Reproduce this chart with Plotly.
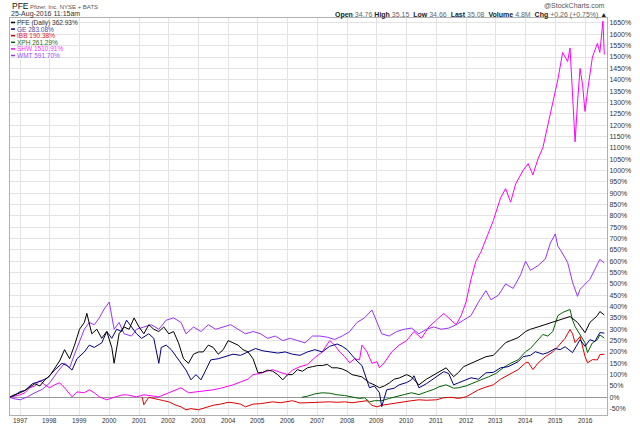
import plotly.graph_objects as go

# ---------------- data ----------------
pfe_dates = ["1996-08-26","1996-10","1997-01","1997-03","1997-05","1997-07","1997-09","1997-11","1998-01","1998-03","1998-05","1998-07","1998-09","1998-11",
             "1999-01","1999-03","1999-04","1999-06","1999-08","1999-10","1999-12","2000-02","2000-03","2000-05","2000-07","2000-09","2000-11",
             "2001-01","2001-03","2001-05","2001-07","2001-09","2001-11","2002-01","2002-03","2002-05","2002-07","2002-09","2002-11",
             "2003-01","2003-03","2003-05","2003-07","2003-09","2003-11","2004-01","2004-03","2004-05","2004-07","2004-09","2004-11",
             "2005-01","2005-03","2005-05","2005-07","2005-09","2005-11","2006-01","2006-03","2006-05","2006-07","2006-09","2006-11",
             "2007-01","2007-03","2007-05","2007-07","2007-09","2007-11","2008-01","2008-03","2008-05","2008-07","2008-10","2008-12",
             "2009-02","2009-04","2009-06","2009-08","2009-10","2010-01","2010-03","2010-06","2010-09","2011-01","2011-03","2011-05",
             "2011-08","2011-10","2011-12","2012-03","2012-06","2012-09","2012-12","2013-02","2013-05","2013-07","2013-10","2014-01",
             "2014-03","2014-06","2014-09","2014-12","2015-03","2015-07","2015-10","2016-01","2016-03","2016-06","2016-07","2016-08-25"]
pfe_vals = [0,8,20,30,45,60,50,77,95,130,160,210,170,230,
            300,330,370,280,300,260,290,220,150,280,310,300,350,
            310,280,320,300,290,310,280,290,240,170,150,190,
            200,200,230,220,190,210,250,240,230,210,200,170,
            108,110,120,115,100,77,100,100,122,115,130,135,
            140,140,145,130,130,125,115,100,95,90,64,55,
            42,50,63,80,85,100,90,55,80,107,120,130,
            91,110,135,150,165,179,185,210,241,250,263,290,
            300,310,320,330,343,356,330,285,330,360,378,363]

ge_dates = ["1996-08-26","1996-11","1997-01","1997-03","1997-06","1997-09","1997-12","1998-03","1998-06","1998-08","1998-10","1998-12",
            "1999-03","1999-05","1999-07","1999-10","1999-12","2000-02","2000-04","2000-06","2000-08","2000-10","2000-12",
            "2001-02","2001-05","2001-07","2001-09","2001-10","2001-12","2002-02","2002-04","2002-06","2002-08","2002-10","2002-12",
            "2003-02","2003-04","2003-06","2003-09","2003-12","2004-03","2004-06","2004-09","2004-12","2005-03","2005-06","2005-09","2005-12",
            "2006-03","2006-06","2006-09","2006-12","2007-03","2007-06","2007-09","2007-11","2008-01","2008-03","2008-05","2008-07",
            "2008-10","2008-12","2009-02","2009-03","2009-05","2009-08","2009-10","2010-01","2010-03","2010-04","2010-06","2010-09",
            "2011-01","2011-04","2011-06","2011-08","2011-10","2012-01","2012-03","2012-06","2012-09","2012-12","2013-03","2013-06",
            "2013-10","2013-12","2014-03","2014-05","2014-08","2014-10","2015-01","2015-03","2015-05","2015-08","2015-11","2016-01",
            "2016-03","2016-05","2016-07","2016-08-25"]
ge_vals = [0,10,25,30,60,70,85,120,150,140,120,170,
           200,230,220,240,290,260,300,290,340,310,280,
           260,280,260,150,220,230,210,180,150,120,77,100,
           77,120,165,170,180,190,185,200,215,205,200,195,200,
           190,185,200,210,200,225,235,225,210,185,160,140,
           42,50,20,-41,33,40,55,65,77,95,42,60,
           91,113,105,55,64,77,86,80,108,110,130,135,
           157,179,185,201,190,197,215,210,223,197,254,225,
           254,246,285,283]

ibb_dates = ["2001-02-09","2001-03","2001-05","2001-08","2001-09","2001-11","2002-01","2002-04","2002-06","2002-08","2002-10",
             "2003-01","2003-04","2003-07","2003-10","2004-01","2004-03","2004-06","2004-08","2004-11","2005-02","2005-04","2005-07","2005-10",
             "2006-01","2006-03","2006-06","2006-09","2006-12","2007-03","2007-06","2007-09","2007-12","2008-03","2008-06","2008-09","2008-11",
             "2009-01","2009-03","2009-06","2009-09","2009-12","2010-03","2010-06","2010-09","2011-01","2011-04","2011-07","2011-10",
             "2012-01","2012-04","2012-06","2012-09","2012-12","2013-03","2013-05","2013-08","2013-10","2014-01","2014-02","2014-04",
             "2014-06","2014-09","2014-12","2015-02","2015-05","2015-07","2015-08","2015-09","2015-11","2016-01","2016-02","2016-04",
             "2016-06","2016-07","2016-08-25"]
ibb_vals = [0,-33,0,-5,-10,-15,-20,-35,-42,-55,-50,
            -55,-45,-35,-30,-22,-24,-30,-42,-30,-28,-24,-20,-24,
            -20,-15,-25,-24,-20,-22,-20,-22,-20,-24,-18,-15,-35,
            -42,-35,-30,-22,-20,-15,-11,-13,-11,-2,0,-5,
            2,20,33,45,55,80,91,110,122,152,155,122,
            150,179,200,223,260,299,280,241,268,180,152,166,
            165,188,190]

xph_dates = ["2006-06-23","2006-09","2006-12","2007-03","2007-06","2007-09","2007-12","2008-03","2008-06","2008-08","2008-10","2008-12",
             "2009-03","2009-06","2009-09","2009-12","2010-03","2010-06","2010-09","2010-12","2011-02","2011-05","2011-08","2011-10",
             "2012-01","2012-04","2012-07","2012-10","2013-01","2013-04","2013-07","2013-10","2014-01","2014-03","2014-05","2014-08",
             "2014-10","2014-12","2015-02","2015-04","2015-07","2015-08","2015-09","2015-12","2016-01","2016-02","2016-04","2016-06",
             "2016-07","2016-08-25"]
xph_vals = [0,5,15,20,18,11,8,0,-5,-2,-20,-15,
            -15,-5,5,12,20,12,24,35,46,55,40,42,
            50,65,77,90,105,130,150,165,201,215,241,277,
            270,290,360,374,387,340,312,260,240,197,240,254,
            275,261]

shw_dates = ["1996-08-26","1996-11","1997-01","1997-03","1997-05","1997-07","1997-09","1997-11","1998-01","1998-03","1998-05","1998-07",
             "1998-10","1998-12","1999-03","1999-05","1999-07","1999-09","1999-12","2000-03","2000-06","2000-08","2000-10","2000-12",
             "2001-03","2001-06","2001-09","2002-01","2002-04","2002-06","2002-09","2003-01","2003-04","2003-07","2003-10","2003-12",
             "2004-03","2004-06","2004-09","2004-11","2005-02","2005-04","2005-07","2005-10","2006-01","2006-03","2006-06","2006-09",
             "2006-12","2007-03","2007-06","2007-08","2007-10","2007-12","2008-02","2008-04","2008-06","2008-07","2008-09","2008-11",
             "2009-01","2009-02","2009-04","2009-07","2009-10","2010-01","2010-04","2010-07","2010-10","2011-01","2011-04","2011-07",
             "2011-09","2011-11","2012-01","2012-03","2012-05","2012-07","2012-10","2012-12","2013-03","2013-05","2013-07","2013-09",
             "2013-12","2014-02","2014-04","2014-06","2014-08","2014-10","2014-12","2015-02","2015-04","2015-06","2015-07","2015-08",
             "2015-09","2015-10","2015-11","2015-12","2016-01","2016-02","2016-04","2016-06","2016-07","2016-08-08","2016-08-25"]
shw_vals = [0,5,11,20,42,50,75,55,42,55,64,42,
            2,24,20,33,20,2,-11,0,10,11,5,2,
            11,8,2,20,35,42,20,24,28,33,40,46,
            55,68,80,100,105,113,122,110,100,120,135,144,
            175,200,250,230,200,180,152,170,165,230,200,150,
            157,130,152,200,230,250,290,260,310,340,370,340,
            320,360,420,520,600,640,720,780,880,920,860,940,
            1000,1030,980,1050,1100,1200,1300,1400,1520,1480,1540,1300,
            1126,1300,1450,1380,1260,1350,1500,1560,1520,1658,1511]

wmt_dates = ["1996-08-26","1996-10","1997-01","1997-04","1997-07","1997-10","1998-01","1998-04","1998-07","1998-09","1998-11",
             "1999-01","1999-03","1999-05","1999-07","1999-09","1999-11","2000-01","2000-03","2000-05","2000-07","2000-10","2000-12",
             "2001-03","2001-06","2001-09","2001-12","2002-03","2002-06","2002-08","2002-11","2003-02","2003-05","2003-08","2003-11",
             "2004-02","2004-05","2004-08","2004-11","2005-02","2005-05","2005-08","2005-11","2006-02","2006-05","2006-08","2006-11",
             "2007-02","2007-05","2007-08","2007-11","2008-02","2008-05","2008-08","2008-11","2009-01","2009-03","2009-06","2009-09",
             "2009-12","2010-03","2010-06","2010-09","2010-12","2011-03","2011-06","2011-09","2011-12","2012-03","2012-06","2012-09",
             "2012-11","2013-02","2013-05","2013-08","2013-11","2014-01","2014-03","2014-06","2014-09","2014-11","2015-01","2015-02",
             "2015-03","2015-06","2015-08","2015-10","2015-11","2016-03","2016-05","2016-07","2016-08-25"]
wmt_vals = [0,-5,-11,2,20,35,64,110,150,130,190,
            250,300,330,320,350,390,420,300,330,280,270,300,
            310,320,300,340,350,330,280,310,290,320,300,310,
            320,300,280,290,280,260,270,250,260,250,240,270,
            270,265,255,270,290,330,350,385,330,280,270,290,
            300,305,280,300,310,300,305,320,340,360,420,470,
            430,450,500,480,540,600,560,580,610,680,720,666,
            652,595,507,445,476,520,564,608,592]

series_names = ["PFE (Daily)", "GE", "IBB", "XPH", "SHW", "WMT"]
series_final = ["362.93%", "283.08%", "190.38%", "261.29%", "1510.91%", "591.70%"]
series_colors = ["#000000", "#000080", "#dd0000", "#006400", "#ff00ff", "#9933ff"]
legend_text_colors = ["#333333", "#4a4aa0", "#dd2222", "#2d6b2d", "#ff33ff", "#9955ff"]

year_ticks = list(range(1997, 2017))
pct_ticks = list(range(-50, 1651, 50))

series_data = [(pfe_dates, pfe_vals), (ge_dates, ge_vals), (ibb_dates, ibb_vals),
               (xph_dates, xph_vals), (shw_dates, shw_vals), (wmt_dates, wmt_vals)]

# ---------------- figure ----------------
W, H = 640, 426
L, R, T, B = 10, 607, 18, 415
def px(x): return (x - L) / (R - L)
def py(y): return (B - y) / (B - T)

FONT = "Liberation Sans, Arial, sans-serif"
fig = go.Figure()
order = [4, 5, 3, 2, 1, 0]
for i in order:
    d, v = series_data[i]
    fig.add_trace(go.Scatter(x=d, y=v, mode="lines", name=series_names[i],
                             line=dict(color=series_colors[i], width=1), showlegend=False,
                             hoverinfo="skip"))

fig.update_layout(
    width=W, height=H,
    margin=dict(l=L, r=W - R, t=T, b=H - B, pad=0),
    paper_bgcolor="white", plot_bgcolor="white",
    font=dict(family=FONT, size=7, color="#333333"),
    showlegend=False,
)
fig.update_xaxes(
    type="date", range=["1996-08-30", "2016-09-27"],
    tickvals=[f"{y}-01-01" for y in year_ticks], ticktext=["" for y in year_ticks],
    showticklabels=False,
    showgrid=True, gridcolor="#e3e3e3", gridwidth=1,
    showline=True, linecolor="#b0b0b0", linewidth=1, mirror=True,
    ticks="", automargin=False, zeroline=False,
)
fig.update_yaxes(
    range=[-78, 1672], side="right",
    tickvals=pct_ticks, ticktext=[f"{v}%" for v in pct_ticks],
    showgrid=True, gridcolor="#e3e3e3", gridwidth=1,
    showline=True, linecolor="#b0b0b0", linewidth=1, mirror=True,
    zeroline=True, zerolinecolor="#999999", zerolinewidth=1,
    ticks="", tickfont=dict(size=7, color="#333333"), automargin=False,
)

ann = []
# year labels along the bottom (x in data coordinates)
for y in year_ticks:
    ann.append(dict(x=f"{y}-01-01", y=py(416), xref="x", yref="paper", xanchor="center", yanchor="top",
                    text=str(y), showarrow=False, borderpad=0,
                    font=dict(size=6.5, color="#333333", family=FONT)))
# header left
ann.append(dict(x=px(10), y=py(6), xref="paper", yref="paper", xanchor="left", yanchor="middle",
                text="PFE", showarrow=False, font=dict(size=8.5, color="#111111", family=FONT)))
ann.append(dict(x=px(28), y=py(6.5), xref="paper", yref="paper", xanchor="left", yanchor="middle",
                text="Pfizer, Inc. NYSE + BATS", showarrow=False, font=dict(size=6, color="#555555", family=FONT)))
ann.append(dict(x=px(10), y=py(14), xref="paper", yref="paper", xanchor="left", yanchor="middle",
                text="25-Aug-2016 11:15am", showarrow=False, borderpad=0,
                font=dict(size=7, color="#333333", family=FONT)))
# header right
ann.append(dict(x=px(607), y=py(5.5), xref="paper", yref="paper", xanchor="right", yanchor="middle",
                text="@StockCharts.com", showarrow=False, font=dict(size=7, color="#555555", family=FONT)))
hdr = ("<b>Open</b> <span style='color:#666'>34.76</span> <b>High</b> <span style='color:#666'>35.15</span>  "
       "<b>Low</b> <span style='color:#666'>34.66</span>  <b>Last</b> <span style='color:#666'>35.08</span>  "
       "<b>Volume</b> <span style='color:#666'>4.8M</span>  <b>Chg</b> <span style='color:#666'>+0.26 (+0.75%)</span> ▲")
ann.append(dict(x=px(609), y=py(14.5), xref="paper", yref="paper", xanchor="right", yanchor="middle",
                text=hdr, showarrow=False, font=dict(size=7, color="#222222", family=FONT)))

# legend
shapes = []
leg_y = [22.5, 29.1, 35.7, 42.3, 48.9, 55.5]
for i in range(6):
    yy = leg_y[i]
    shapes.append(dict(type="line", xref="paper", yref="paper", x0=px(11), x1=px(15), y0=py(yy), y1=py(yy),
                       line=dict(color=series_colors[i], width=1.5)))
    ann.append(dict(x=px(16), y=py(yy), xref="paper", yref="paper", xanchor="left", yanchor="middle",
                    text=f"{series_names[i]} {series_final[i]}", showarrow=False, borderpad=0,
                    font=dict(size=6.5, color=legend_text_colors[i], family=FONT)))

fig.update_layout(annotations=ann, shapes=shapes)
fig.write_html("out.html", config={"displayModeBar": False},
               post_script="document.body.style.margin='0px';document.body.style.overflow='hidden';")
